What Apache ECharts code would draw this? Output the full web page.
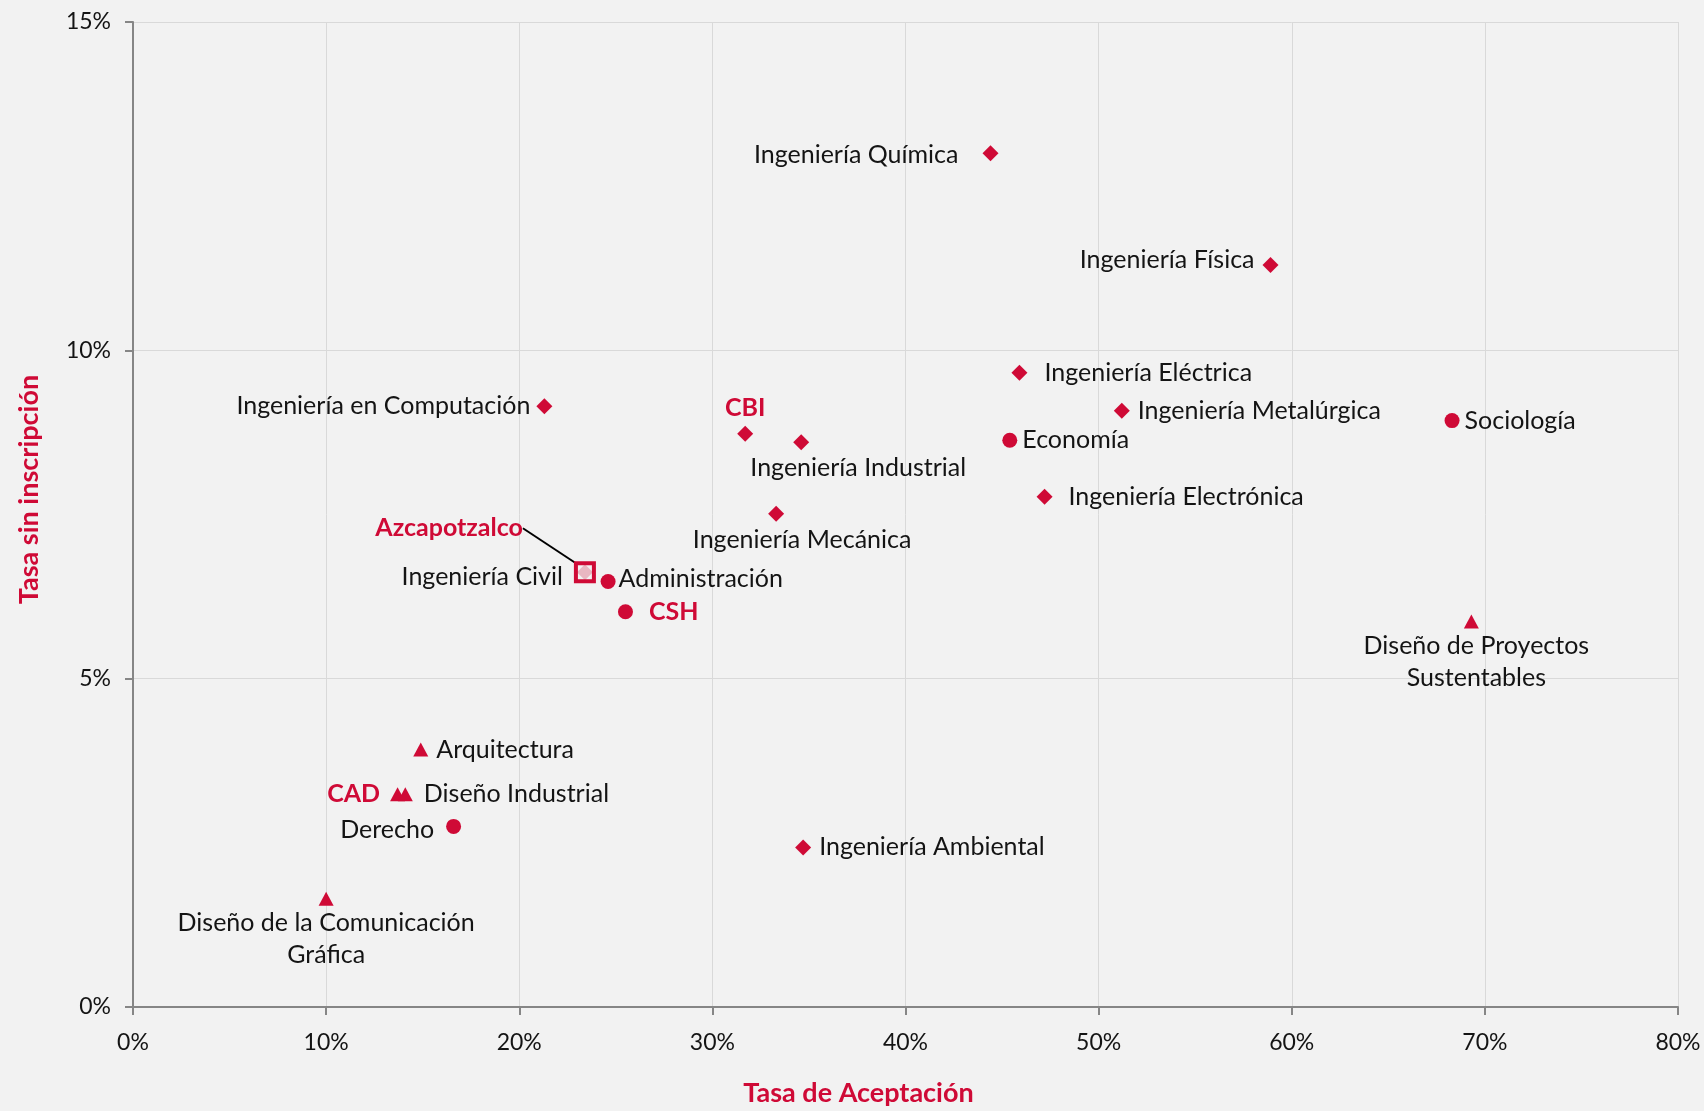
<!DOCTYPE html>
<html>
<head>
<meta charset="utf-8">
<title>Tasa de Aceptación vs Tasa sin inscripción</title>
<script src="https://cdn.jsdelivr.net/npm/echarts@6/dist/echarts.min.js"></script>
<style>
  html, body { margin: 0; padding: 0; background: #f2f2f2; }
  #chart { width: 1704px; height: 1111px; }
</style>
</head>
<body>
<div id="chart"></div>
<script>
// CBI programs (diamonds)
const cbiNames = ['Ingeniería Química', 'Ingeniería Física', 'Ingeniería Eléctrica', 'Ingeniería Metalúrgica',
  'Ingeniería en Computación', 'CBI', 'Ingeniería Industrial', 'Ingeniería Electrónica',
  'Ingeniería Mecánica', 'Ingeniería Civil', 'Ingeniería Ambiental'];
const cbiAcceptance = [44.4, 58.9, 45.9, 51.2, 21.3, 31.7, 34.6, 47.2, 33.3, 23.4, 34.7];
const cbiNoEnroll = [13.0, 11.3, 9.66, 9.08, 9.15, 8.73, 8.60, 7.77, 7.51, 6.62, 2.43];

// CSH programs (circles)
const cshNames = ['Sociología', 'Economía', 'Administración', 'CSH', 'Derecho'];
const cshAcceptance = [68.3, 45.4, 24.6, 25.5, 16.6];
const cshNoEnroll = [8.93, 8.63, 6.48, 6.02, 2.75];

// CAD programs (triangles)
const cadNames = ['Diseño de Proyectos Sustentables', 'Arquitectura', 'CAD', 'Diseño Industrial',
  'Diseño de la Comunicación Gráfica'];
const cadAcceptance = [69.3, 14.9, 13.7, 14.1, 10.0];
const cadNoEnroll = [5.87, 3.92, 3.24, 3.24, 1.65];

// unit total (square)
const unitNames = ['Azcapotzalco'];
const unitAcceptance = [23.4];
const unitNoEnroll = [6.62];

const xTicks = [0, 10, 20, 30, 40, 50, 60, 70, 80];
const yTicks = [0, 5, 10, 15];

const RED = '#cf0a36';
const TEXT = '#141414';
const FONT = 'Lato';
const divisions = ['CBI', 'CSH', 'CAD', 'Azcapotzalco'];

// where each label sits relative to its marker
const labelSpots = {
  'Ingeniería Química': { position: 'left', distance: 24, offset: [0, 2] },
  'Ingeniería Física': { position: 'left', distance: 8, offset: [0, -5] },
  'Ingeniería Eléctrica': { position: 'right', distance: 17 },
  'Ingeniería Metalúrgica': { position: 'right', distance: 8 },
  'Ingeniería en Computación': { position: 'left', distance: 6 },
  'CBI': { position: 'top', distance: 2 },
  'Ingeniería Industrial': { position: 'bottom', distance: 2, offset: [57, 0] },
  'Ingeniería Electrónica': { position: 'right', distance: 16 },
  'Ingeniería Mecánica': { position: 'bottom', distance: 2, offset: [26, 0] },
  'Ingeniería Civil': { position: 'left', distance: 14, offset: [0, 5] },
  'Ingeniería Ambiental': { position: 'right', distance: 8 },
  'Sociología': { position: 'right', distance: 5 },
  'Economía': { position: 'right', distance: 5 },
  'Administración': { position: 'right', distance: 3, offset: [0, -3] },
  'CSH': { position: 'right', distance: 16 },
  'Derecho': { position: 'left', distance: 12, offset: [0, 4] },
  'Diseño de Proyectos Sustentables': { position: 'bottom', distance: 1, offset: [5, 0],
    text: 'Diseño de Proyectos\nSustentables' },
  'Arquitectura': { position: 'right', distance: 8 },
  'CAD': { position: 'left', distance: 10 },
  'Diseño Industrial': { position: 'right', distance: 11 },
  'Diseño de la Comunicación Gráfica': { position: 'bottom', distance: 1,
    text: 'Diseño de la Comunicación\nGráfica' },
  'Azcapotzalco': { position: 'left', distance: 5 }
};

function buildData(names, xs, ys) {
  return names.map((n, i) => {
    const spot = labelSpots[n] || { position: 'right', distance: 5 };
    const bold = divisions.indexOf(n) >= 0;
    return {
      name: n,
      value: [xs[i], ys[i]],
      label: {
        show: true,
        position: spot.position,
        distance: spot.distance,
        offset: spot.offset || [0, 0],
        formatter: spot.text || n,
        align: spot.position === 'bottom' || spot.position === 'top' ? 'center' : undefined,
        color: bold ? RED : TEXT,
        fontWeight: bold ? 'bold' : 'normal'
      }
    };
  });
}

const chart = echarts.init(document.getElementById('chart'));

const baseLabel = { fontFamily: FONT, fontSize: 25, lineHeight: 32 };

chart.setOption({
  backgroundColor: '#f2f2f2',
  animation: false,
  textStyle: { fontFamily: FONT },
  grid: { left: 133, right: 26, top: 22, bottom: 104, outerBoundsMode: 'none', containLabel: false },
  xAxis: {
    type: 'value',
    min: xTicks[0],
    max: xTicks[xTicks.length - 1],
    interval: 10,
    name: 'Tasa de Aceptación',
    nameLocation: 'middle',
    nameGap: 73,
    nameTextStyle: { color: RED, fontWeight: 'bold', fontSize: 27, fontFamily: FONT, padding: [0, 94, 0, 0] },
    axisLine: { lineStyle: { color: '#868686', width: 2 } },
    axisTick: { show: true, length: 8, lineStyle: { color: '#868686', width: 2 } },
    axisLabel: { color: TEXT, fontSize: 23, fontFamily: FONT, margin: 24, formatter: '{value}%' },
    splitLine: { show: true, lineStyle: { color: '#d9d9d9', width: 1 } }
  },
  yAxis: {
    type: 'value',
    min: yTicks[0],
    max: yTicks[yTicks.length - 1],
    interval: 5,
    name: 'Tasa sin inscripción',
    nameLocation: 'middle',
    nameGap: 90,
    nameTextStyle: { color: RED, fontWeight: 'bold', fontSize: 27, fontFamily: FONT, padding: [0, 0, 0, 50] },
    axisLine: { show: true, lineStyle: { color: '#868686', width: 2 } },
    axisTick: { show: true, length: 8, lineStyle: { color: '#868686', width: 2 } },
    axisLabel: { color: TEXT, fontSize: 23, fontFamily: FONT, margin: 22, formatter: '{value}%' },
    splitLine: { show: true, lineStyle: { color: '#d9d9d9', width: 1 } }
  },
  series: [
    {
      name: 'CBI',
      type: 'scatter',
      symbol: 'diamond',
      symbolSize: 16,
      itemStyle: { color: RED, opacity: 1 },
      label: baseLabel,
      data: buildData(cbiNames, cbiAcceptance, cbiNoEnroll)
    },
    {
      name: 'CSH',
      type: 'scatter',
      symbol: 'circle',
      symbolSize: 15,
      itemStyle: { color: RED, opacity: 1 },
      label: baseLabel,
      data: buildData(cshNames, cshAcceptance, cshNoEnroll)
    },
    {
      name: 'CAD',
      type: 'scatter',
      symbol: 'triangle',
      symbolSize: [15, 14],
      itemStyle: { color: RED, opacity: 1 },
      label: baseLabel,
      data: buildData(cadNames, cadAcceptance, cadNoEnroll)
    },
    {
      name: 'Azcapotzalco',
      type: 'scatter',
      symbol: 'rect',
      symbolSize: 18,
      z: 5,
      itemStyle: { color: 'rgba(242,242,242,0.75)', borderColor: RED, borderWidth: 4, opacity: 1 },
      label: baseLabel,
      labelLayout: { dx: -46, dy: -44 },
      labelLine: { show: true, lineStyle: { color: '#000', width: 2 } },
      data: buildData(unitNames, unitAcceptance, unitNoEnroll)
    }
  ]
});
</script>
</body>
</html>
